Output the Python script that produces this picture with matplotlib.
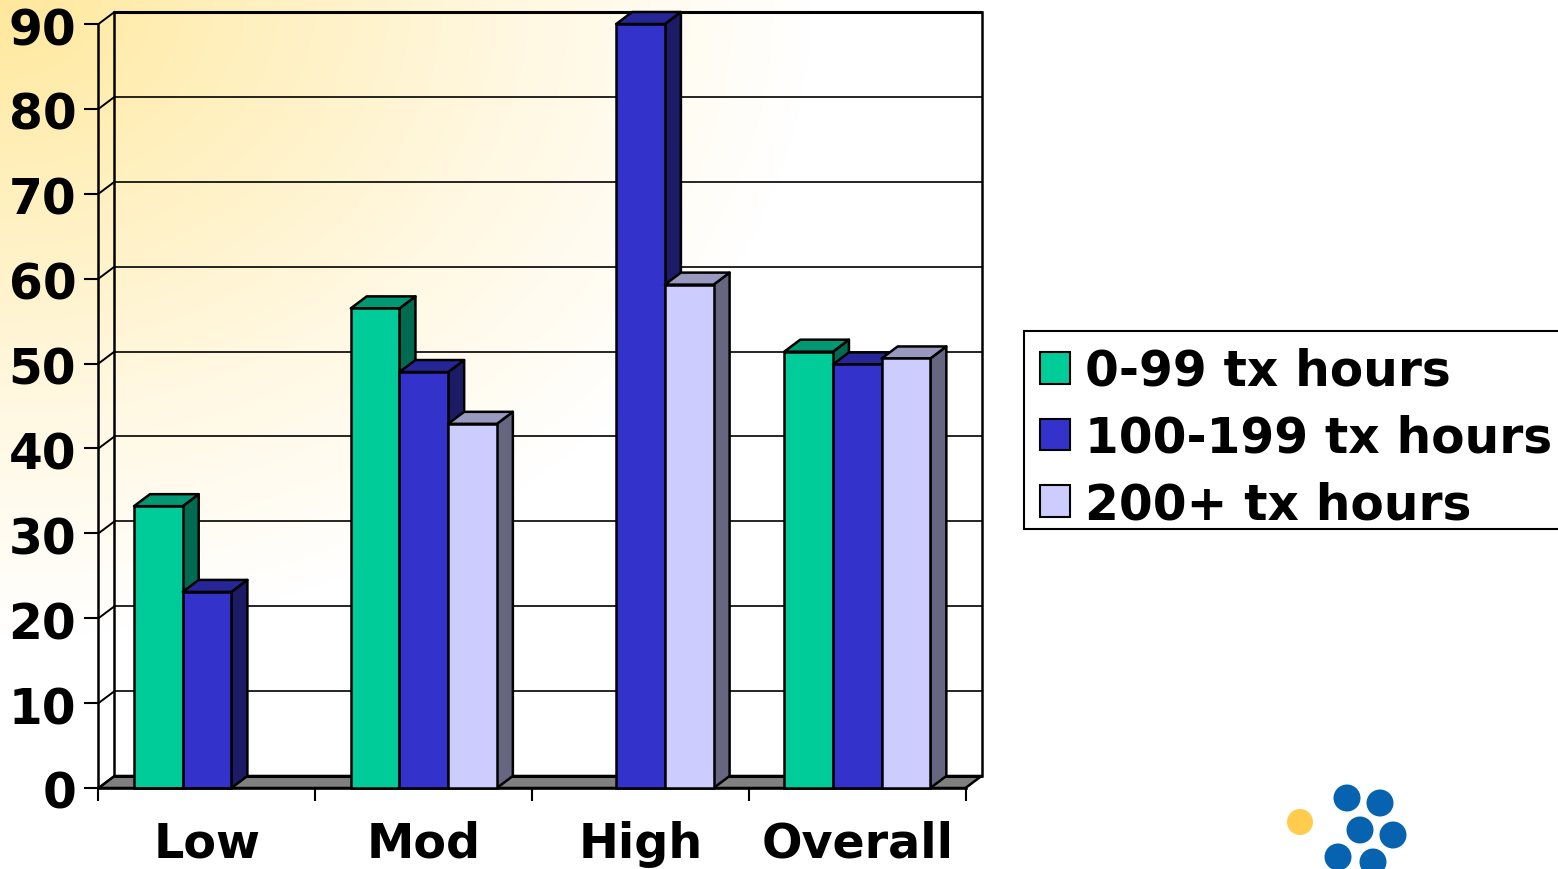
import numpy as np
import matplotlib
matplotlib.use("Agg")
import matplotlib.pyplot as plt
from matplotlib.colors import LinearSegmentedColormap
from matplotlib.patches import Circle, Polygon, Rectangle
from matplotlib.transforms import Affine2D

categories = ["Low", "Mod", "High", "Overall"]
series_names = ["0-99 tx hours", "100-199 tx hours", "200+ tx hours"]
series_a = [33.2, 56.5, np.nan, 51.4]
series_b = [23.1, 49.0, 90.0, 49.9]
series_c = [np.nan, 42.9, 59.3, 50.6]
y_ticks = [0, 10, 20, 30, 40, 50, 60, 70, 80, 90]

front = ["#00CC99", "#3333CC", "#CCCCFF"]
top = ["#009973", "#262699", "#9999BF"]
side = ["#006B50", "#1C1C66", "#666680"]

W, H = 1558, 870
fig = plt.figure(figsize=(W / 100, H / 100), dpi=100, facecolor="white")
plt.rcParams["font.family"] = ["DejaVu Sans"]
FS = 35

# page background gradient + logo, in pixel coordinates
bg = fig.add_axes([0, 0, 1, 1], zorder=0)
bg.set_xlim(0, W)
bg.set_ylim(H, 0)
bg.axis("off")
yy, xx = np.mgrid[0:H, 0:W]
r = np.sqrt((xx / 815.0) ** 2 + (yy / 640.0) ** 2)
cmap = LinearSegmentedColormap.from_list(
    "glow", [(0, "#FFE89C"), (0.3, "#FFF0BE"), (0.65, "#FFF8E2"), (1, "#FFFFFF")])
bg.imshow(np.clip(r, 0, 1), cmap=cmap, vmin=0, vmax=1, extent=(0, W, H, 0), aspect="auto")
bg.add_patch(Circle((1300, 823), 13, fc="#FFCC4D", ec="none"))
for c in [(1347, 799), (1380, 804), (1360, 831), (1393, 836), (1338, 858), (1373, 863)]:
    bg.add_patch(Circle(c, 13.5, fc="#0763B0", ec="none"))
# legend frame runs off the right edge of the page
bg.add_patch(Rectangle((1024, 332), 560, 198, fc="white", ec="black", lw=1.5, clip_on=True))
bg.set_xlim(0, W)
bg.set_ylim(H, 0)

# chart axes: front plane of the 3-D box
L, R, T, B = 98.5, 965.5, 25, 789
ax = fig.add_axes([L / W, 1 - B / H, (R - L) / W, (B - T) / H], zorder=1)
ax.patch.set_visible(False)
ax.set_xlim(0, len(categories))
ax.set_ylim(0, 90)
for s in ["top", "right"]:
    ax.spines[s].set_visible(False)
for s in ["left", "bottom"]:
    ax.spines[s].set_linewidth(1.8)

DX = 16 / ((R - L) / len(categories))
DY = 12 / ((B - T) / 90)
LW = 1.8
n = len(categories)

# floor and back wall
ax.add_patch(Polygon([(0, 0), (n, 0), (n + DX, DY), (DX, DY)], fc="#808080", ec="black",
                     lw=LW, clip_on=False, zorder=1))
for v in y_ticks:
    ax.plot([DX, n + DX], [v + DY, v + DY], color="black", lw=2.2 if v in (0, 90) else 1.2,
            clip_on=False, zorder=1.5, solid_capstyle="butt")
    ax.plot([0, DX], [v, v + DY], color="black", lw=1.4, clip_on=False, zorder=1.5)
ax.plot([DX, DX], [DY, 90 + DY], color="black", lw=LW, clip_on=False, zorder=1.5)
ax.plot([n + DX, n + DX], [DY, 90 + DY], color="black", lw=LW, clip_on=False, zorder=1.5)

# bars
BW = 48.7 / ((R - L) / n)
START = 35.5 / ((R - L) / n)
z = 2.0
for g in range(n):
    for k, vals in enumerate([series_a, series_b, series_c]):
        v = vals[g]
        x0 = g + START + k * BW
        if np.isnan(v):
            continue
        x1 = x0 + BW
        ax.add_patch(Polygon([(x1, 0), (x1 + DX, DY), (x1 + DX, v + DY), (x1, v)],
                             fc=side[k], ec="black", lw=LW, clip_on=False, zorder=z,
                             joinstyle="round"))
        ax.add_patch(Polygon([(x0, v), (x1, v), (x1 + DX, v + DY), (x0 + DX, v + DY)],
                             fc=top[k], ec="black", lw=LW, clip_on=False, zorder=z,
                             joinstyle="round"))
        ax.bar(x0, v, BW, align="edge", color=front[k], edgecolor="black", linewidth=LW,
               clip_on=False, zorder=z + 0.1)
        z += 0.2

# axes ticks and labels
ax.set_yticks(y_ticks)
ax.set_yticklabels([str(t) for t in y_ticks], fontsize=FS, fontweight="bold")
ax.tick_params(axis="y", length=10, width=1.5, pad=6)
ax.set_xticks(range(n + 1))
ax.set_xticklabels([""] * (n + 1))
ax.tick_params(axis="x", which="major", length=9, width=1.5)
ax.set_xticks([i + 0.5 for i in range(n)], minor=True)
ax.set_xticklabels(categories, minor=True, fontsize=34.3, fontweight="bold")
ax.tick_params(axis="x", which="minor", length=0, pad=23)
for lbl in ax.get_yticklabels():
    lbl.set_transform(lbl.get_transform() + Affine2D().translate(0, -1))

# legend
handles = [Rectangle((0, 0), 1, 1, fc=c, ec="black", lw=1.5) for c in front]
leg = fig.legend(handles, series_names, loc="upper left",
                 bbox_to_anchor=(1040 / W, 1 - 348 / H), bbox_transform=fig.transFigure,
                 prop={"size": FS, "weight": "bold"}, frameon=False, borderaxespad=0, borderpad=0,
                 handlelength=0.62, handleheight=0.62, handletextpad=0.30, labelspacing=0.383)
leg.set_zorder(5)

fig.savefig("out.png", dpi=100)
